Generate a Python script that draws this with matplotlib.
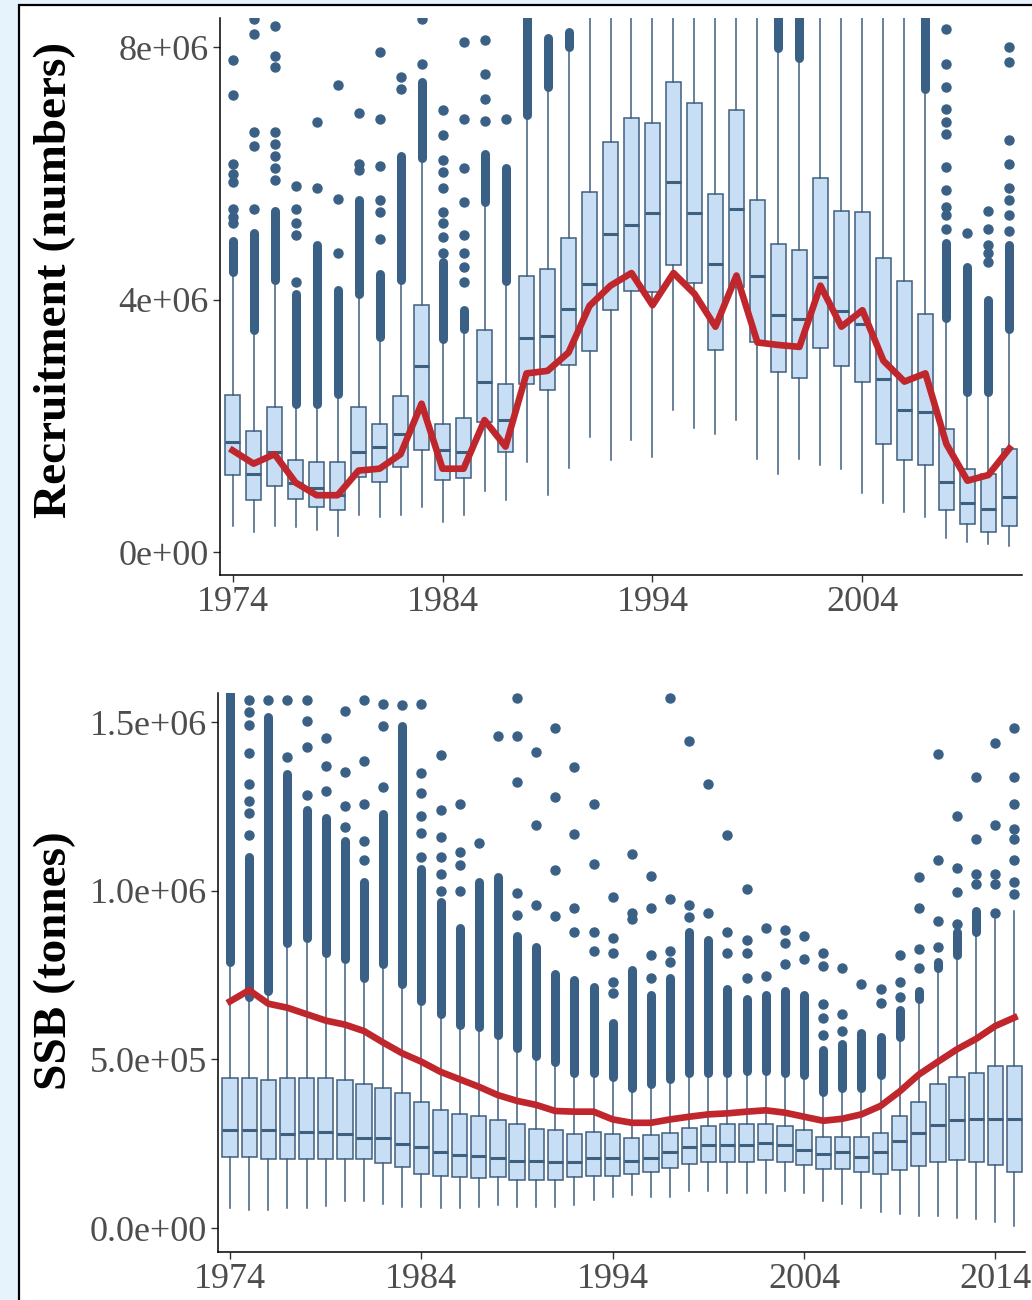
import numpy as np
import matplotlib.pyplot as plt
from matplotlib.patches import Rectangle

plt.rcParams['font.family'] = ['Liberation Serif', 'DejaVu Serif']

# ---- Recruitment (millions of fish), 1974-2011 ----
rec_years = np.arange(1974, 2012)
rec_whislo = [0.42, 0.32, 0.42, 0.39, 0.35, 0.26, 0.58, 0.55, 0.58, 0.71, 0.48, 0.58, 0.97, 0.82,
              1.42, 0.90, 1.33, 1.82, 1.46, 1.78, 1.50, 2.25, 1.96, 1.87, 2.09, 1.48, 1.24, 1.48,
              1.38, 1.32, 0.93, 0.77, 0.64, 0.55, 0.23, 0.16, 0.13, 0.10]
rec_q1 = [1.22, 0.82, 1.05, 0.84, 0.72, 0.66, 1.19, 1.11, 1.35, 1.61, 1.14, 1.18, 2.06, 1.59,
          2.66, 2.56, 2.97, 3.19, 3.83, 4.13, 4.12, 4.55, 4.26, 3.20, 4.20, 3.32, 2.85, 2.76,
          3.24, 2.94, 2.69, 1.71, 1.45, 1.38, 0.66, 0.45, 0.32, 0.42]
rec_med = [1.74, 1.24, 1.58, 1.09, 1.01, 0.90, 1.58, 1.67, 1.87, 2.94, 1.61, 1.58, 2.69, 2.09,
           3.39, 3.43, 3.85, 4.25, 5.04, 5.18, 5.37, 5.86, 5.37, 4.57, 5.43, 4.38, 3.75, 3.69,
           4.35, 3.82, 3.61, 2.74, 2.25, 2.22, 1.11, 0.77, 0.68, 0.87]
rec_q3 = [2.49, 1.91, 2.30, 1.45, 1.42, 1.42, 2.30, 2.03, 2.47, 3.91, 2.03, 2.12, 3.51, 2.66,
          4.38, 4.49, 4.98, 5.71, 6.49, 6.88, 6.79, 7.44, 7.12, 5.67, 7.01, 5.57, 4.88, 4.78,
          5.92, 5.41, 5.38, 4.66, 4.29, 3.77, 1.95, 1.31, 1.24, 1.64]
rec_whishi = [4.44, 3.51, 4.31, 2.35, 2.35, 2.51, 4.09, 3.41, 4.31, 6.25, 3.38, 3.54, 5.54, 4.30,
              6.92, 7.37, 8.00, 9.00, 9.00, 9.00, 9.00, 9.00, 9.00, 9.00, 9.00, 9.00, 7.98, 7.82,
              9.00, 9.00, 9.00, 9.00, 9.00, 7.34, 3.70, 2.54, 2.54, 3.54]
# upper end of the packed run of outliers above each whisker
rec_packed = [4.93, 5.05, 5.41, 4.09, 4.86, 4.15, 5.57, 4.41, 6.28, 7.44, 4.60, 3.83, 6.31, 6.08,
              8.60, 8.15, 8.24, np.nan, np.nan, np.nan, np.nan, np.nan, np.nan, np.nan, np.nan,
              np.nan, 8.60, 8.60, np.nan, np.nan, np.nan, np.nan, np.nan, 8.60, 4.89, 4.51, 3.99, 4.86]
rec_outliers = [
    [5.22, 5.31, 5.44, 5.86, 5.99, 6.15, 7.24, 7.80],
    [5.44, 6.44, 6.66, 8.21, 8.45],
    [5.89, 6.08, 6.28, 6.47, 6.66, 7.69, 7.86, 8.33],
    [4.28, 5.02, 5.22, 5.44, 5.80],
    [5.76, 6.81],
    [4.73, 5.60, 7.40],
    [6.05, 6.15, 6.95],
    [4.96, 5.38, 5.57, 6.12, 6.86, 7.92],
    [7.34, 7.53],
    [7.73, 8.45],
    [4.73, 4.99, 5.22, 5.38, 5.76, 6.02, 6.21, 6.60, 7.00],
    [4.28, 4.51, 4.73, 5.02, 5.54, 6.08, 6.86, 8.08],
    [6.83, 7.18, 7.57, 8.11],
    [6.86],
    [], [], [], [], [], [], [], [], [], [], [], [], [], [], [], [], [], [], [], [],
    [5.12, 5.34, 5.47, 5.73, 6.10, 6.63, 6.81, 7.02, 7.37, 7.73, 8.29],
    [5.05],
    [4.60, 4.73, 4.86, 5.12, 5.41],
    [5.09, 5.34, 5.57, 5.76, 6.15, 6.52, 7.77, 8.00],
]
rec_estimate = [1.61, 1.40, 1.55, 1.10, 0.90, 0.90, 1.29, 1.32, 1.55, 2.35, 1.32, 1.32, 2.09, 1.67,
                2.83, 2.87, 3.16, 3.90, 4.22, 4.42, 3.91, 4.42, 4.09, 3.57, 4.38, 3.32, 3.28, 3.25,
                4.22, 3.57, 3.83, 3.03, 2.70, 2.83, 1.71, 1.13, 1.22, 1.64]

# ---- SSB (hundred thousand tonnes), 1974-2015 ----
ssb_years = np.arange(1974, 2016)
ssb_whislo = [0.60, 0.54, 0.54, 0.60, 0.60, 0.66, 0.79, 0.79, 0.72,
              0.63, 0.63, 0.58, 0.58, 0.63, 0.68, 0.63, 0.63, 0.63, 0.68, 0.83, 0.93, 0.99,
              0.91, 0.91, 1.10, 1.10, 1.04, 1.04, 1.04, 1.10, 1.04, 0.79, 0.72, 0.60, 0.47,
              0.41, 0.35, 0.35, 0.31, 0.26, 0.19, 0.06]
ssb_q1 = [2.11, 2.11, 2.05, 2.05, 2.05, 2.05, 2.05, 2.05, 1.92,
          1.80, 1.60, 1.54, 1.50, 1.49, 1.50, 1.42, 1.42, 1.42, 1.50, 1.54, 1.54, 1.60,
          1.65, 1.77, 1.90, 1.96, 1.96, 1.96, 2.02, 1.96, 1.86, 1.74, 1.74, 1.65, 1.59,
          1.71, 1.84, 1.96, 2.02, 1.96, 1.86, 1.65]
ssb_med = [2.91, 2.91, 2.91, 2.78, 2.85, 2.85, 2.78, 2.66, 2.66,
           2.49, 2.39, 2.25, 2.18, 2.13, 2.07, 2.00, 2.00, 1.95, 1.95, 2.08, 2.08, 2.00,
           2.07, 2.26, 2.39, 2.45, 2.45, 2.45, 2.51, 2.45, 2.32, 2.20, 2.26, 2.10, 2.26,
           2.57, 2.82, 3.05, 3.20, 3.22, 3.24, 3.22]
ssb_q3 = [4.44, 4.44, 4.38, 4.44, 4.44, 4.44, 4.38, 4.26, 4.16,
          4.01, 3.75, 3.50, 3.38, 3.32, 3.20, 3.07, 2.95, 2.90, 2.78, 2.85, 2.78, 2.66,
          2.77, 2.83, 2.96, 3.02, 3.08, 3.08, 3.08, 3.02, 2.90, 2.71, 2.71, 2.71, 2.83,
          3.33, 3.75, 4.27, 4.48, 4.61, 4.79, 4.79]
ssb_whishi = [7.90, 6.84, 7.03, 8.46, 8.59, 8.15, 7.97, 7.40, 7.84,
              7.22, 6.72, 6.34, 6.03, 5.97, 5.72, 5.34, 5.09, 4.91, 4.59, 4.59, 4.47, 4.16,
              4.28, 4.41, 4.59, 4.59, 4.59, 4.66, 4.66, 4.59, 4.53, 4.03, 4.16, 4.16, 4.53,
              5.66, 6.78, 7.72, 8.09, 8.78, 9.15, 9.40]
ssb_packed = [16.20, 11.00, 15.14, 13.46, 12.40, 12.15, 11.46, 10.27, 12.27,
              14.89, 10.65, 9.65, 8.90, 10.27, 10.40, 8.65, 8.34, 7.53, 7.34, 7.15, 6.09, 7.65,
              6.90, 7.40, 8.78, 8.53, 7.09, 6.78, 6.90, 7.03, 6.90, 5.28, 5.47, 5.78, 5.66,
              6.47, 7.03, 7.90, 8.78, 9.40, np.nan, np.nan]
ssb_outliers = [
    [],
    [11.65, 12.30, 12.65, 13.15, 14.08, 14.90, 15.30, 15.64],
    [15.64],
    [13.96, 15.64],
    [12.83, 14.27, 15.02, 15.64],
    [12.96, 13.71, 14.52],
    [11.90, 12.52, 13.52, 15.33],
    [10.90, 11.46, 12.58, 13.83, 15.64],
    [13.08, 14.89, 15.52],
    [15.50],
    [11.00, 11.70, 12.20, 12.90, 13.50, 15.52],
    [10.00, 10.50, 11.00, 11.60, 12.40, 14.02],
    [10.00, 10.77, 11.15, 12.58],
    [11.40],
    [14.58],
    [9.28, 9.94, 13.21, 14.58, 15.70],
    [9.59, 11.96, 14.12],
    [9.25, 10.61, 12.77, 14.81],
    [8.78, 9.50, 11.67, 13.68],
    [8.21, 8.78, 10.80, 12.58],
    [6.97, 7.28, 8.15, 8.59, 9.81],
    [9.15, 9.34, 11.09],
    [7.40, 8.09, 9.50, 10.44],
    [7.88, 8.21, 9.75, 15.70],
    [9.21, 9.59, 14.43],
    [9.34, 13.15],
    [8.15, 8.78, 11.65],
    [7.40, 8.15, 8.53, 10.06],
    [7.47, 8.90],
    [7.84, 8.46, 8.84],
    [7.97, 8.65],
    [5.72, 6.22, 6.65, 7.78, 8.15],
    [5.84, 6.34, 7.72],
    [7.22],
    [6.68, 7.09],
    [6.85, 7.28, 8.09],
    [7.72, 8.28, 9.50, 10.42],
    [8.34, 9.11, 10.92, 14.06],
    [9.00, 9.96, 10.67, 12.21],
    [10.20, 10.50, 11.52, 13.37],
    [9.34, 10.20, 10.50, 11.96, 14.37],
    [9.90, 10.27, 10.90, 11.52, 11.84, 12.58, 13.37, 14.81],
]
ssb_estimate = [6.72, 7.05, 6.65, 6.53, 6.34, 6.15, 6.03, 5.84, 5.50,
                5.18, 4.93, 4.63, 4.41, 4.19, 3.94, 3.77, 3.65, 3.47, 3.45, 3.45, 3.22, 3.12,
                3.12, 3.22, 3.30, 3.37, 3.40, 3.45, 3.49, 3.42, 3.30, 3.18, 3.24, 3.37, 3.62,
                4.05, 4.55, 4.93, 5.30, 5.61, 5.99, 6.24]

BOX_FILL = '#c8def5'
BOX_EDGE = '#3f5f7e'
DOT = '#3a6185'
RED = '#c0272d'
TICK_TXT = '#4d4d4d'
DOT_SIZE = 6.5


def draw_panel(ax, years, lo, q1, med, q3, hi, packed, outliers, estimate, scale, width):
    stats = []
    for i in range(len(years)):
        stats.append(dict(whislo=lo[i] * scale, q1=q1[i] * scale, med=med[i] * scale,
                          q3=q3[i] * scale, whishi=hi[i] * scale,
                          fliers=np.array(outliers[i]) * scale))
    ax.bxp(stats, positions=years, widths=width, patch_artist=True, showcaps=False,
           manage_ticks=False,
           boxprops=dict(facecolor=BOX_FILL, edgecolor=BOX_EDGE, linewidth=1.1),
           whiskerprops=dict(color=BOX_EDGE, linewidth=1.1),
           medianprops=dict(color=BOX_EDGE, linewidth=2.2),
           flierprops=dict(marker='o', markersize=DOT_SIZE, markerfacecolor=DOT,
                           markeredgecolor=DOT, linestyle='none'))
    # runs of outliers so dense that the dots merge into a column
    packed = np.array(packed, dtype=float)
    hi = np.array(hi, dtype=float)
    keep = ~np.isnan(packed) & (packed > hi)
    ax.vlines(years[keep], hi[keep] * scale, packed[keep] * scale, colors=DOT,
              linewidth=DOT_SIZE, capstyle='round', zorder=2)
    ax.plot(years, np.array(estimate) * scale, color=RED, linewidth=4.8,
            solid_joinstyle='round', zorder=5)
    for side in ('top', 'right'):
        ax.spines[side].set_visible(False)
    for side in ('left', 'bottom'):
        ax.spines[side].set_linewidth(1.1)
    ax.tick_params(axis='both', labelsize=26, labelcolor=TICK_TXT, color='#333333',
                   length=5, width=1.0, pad=3)
    ax.set_xticks([1974, 1984, 1994, 2004, 2014])


fig = plt.figure(figsize=(10.32, 13.0), dpi=100)
fig.patch.set_facecolor('#e7f3fc')
fig.patches.append(Rectangle((19 / 1032, -0.1), 1.2, 1.1 - 5 / 1300, transform=fig.transFigure,
                             facecolor='white', edgecolor='black', linewidth=1.6, zorder=-1))

ax1 = fig.add_axes([220 / 1032, 1 - 575 / 1300, 802 / 1032, 557 / 1300])
ax1.patch.set_alpha(0)
draw_panel(ax1, rec_years, rec_whislo, rec_q1, rec_med, rec_q3, rec_whishi, rec_packed,
           rec_outliers, rec_estimate, 1e6, 0.73)
ax1.set_xlim(1973.4, 2011.6)
ax1.set_ylim(-0.364e6, 8.46e6)
ax1.set_yticks([0, 4e6, 8e6], ['0e+00', '4e+06', '8e+06'])

ax2 = fig.add_axes([218 / 1032, 1 - 1252 / 1300, 807 / 1032, 559 / 1300])
ax2.patch.set_alpha(0)
draw_panel(ax2, ssb_years, ssb_whislo, ssb_q1, ssb_med, ssb_q3, ssb_whishi, ssb_packed,
           ssb_outliers, ssb_estimate, 1e5, 0.8)
ax2.set_xlim(1973.37, 2015.55)
ax2.set_ylim(-0.071e6, 1.586e6)
ax2.set_yticks([0, 5e5, 1e6, 1.5e6], ['0.0e+00', '5.0e+05', '1.0e+06', '1.5e+06'])

fig.text(55 / 1032, 1 - 280 / 1300, 'Recruitment (numbers)', rotation=90, ha='center',
         va='center', fontsize=34, fontweight='bold')
fig.text(55 / 1032, 1 - 961 / 1300, 'SSB (tonnes)', rotation=90, ha='center',
         va='center', fontsize=34, fontweight='bold')

fig.savefig('out.png', dpi=100, facecolor=fig.get_facecolor())
